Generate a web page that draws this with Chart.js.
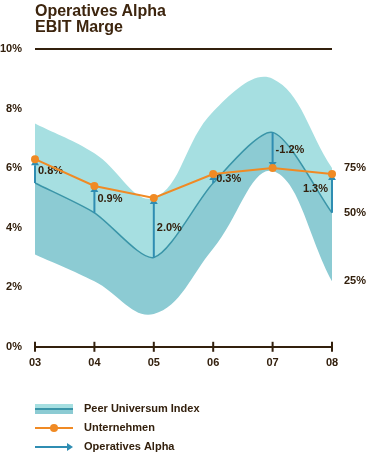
<!DOCTYPE html>
<html>
<head>
<meta charset="utf-8">
<script src="https://cdn.jsdelivr.net/npm/chart.js@4.4.1/dist/chart.umd.min.js"></script>
<style>
    body { margin: 0; background: #fff; }
    #wrap { position: relative; width: 368px; height: 454px; }
    #title { position: absolute; left: 35px; top: 3px; font: bold 16px "Liberation Sans", Arial, sans-serif; line-height: 16px; color: #3d250e; }
</style>
</head>
<body>
<div id="wrap">
    <div id="title">Operatives Alpha<br>EBIT Marge</div>
    <canvas id="myChart" width="368" height="454"></canvas>
</div>
<script>
const years = ['03', '04', '05', '06', '07', '08']
const peerUpper = [7.5, 6.5, 5.0, 7.9, 9.0, 6.0]
const peerMedian = [5.5, 4.5, 3.0, 5.5, 7.2, 4.5]
const peerLower = [3.1, 2.2, 1.1, 3.3, 5.9, 2.2]
const company = [6.3, 5.4, 5.0, 5.8, 6.0, 5.8]
const yTicks = [0, 2, 4, 6, 8, 10]
const quantileLabels = ['75%', '50%', '25%']
const legendLabels = ['Peer Universum Index', 'Unternehmen', 'Operatives Alpha']

const brown = '#33200d'
const lightBand = '#a6dfe1'
const darkBand = '#8ccbd3'
const medianColor = '#3a95a8'
const arrowColor = '#2f8db2'
const orange = '#f08a24'
const font = '"Liberation Sans", Arial, sans-serif'

function drawArrow(c, x1, y1, x2, y2){
    let ang = Math.atan2(y2 - y1, x2 - x1)
    let head = 6
    c.save()
    c.strokeStyle = arrowColor
    c.fillStyle = arrowColor
    c.lineWidth = 2
    c.beginPath()
    c.moveTo(x1, y1)
    c.lineTo(x2 - Math.cos(ang) * head, y2 - Math.sin(ang) * head)
    c.stroke()
    c.beginPath()
    c.moveTo(x2, y2)
    c.lineTo(x2 - Math.cos(ang) * head - Math.sin(ang) * 4, y2 - Math.sin(ang) * head + Math.cos(ang) * 4)
    c.lineTo(x2 - Math.cos(ang) * head + Math.sin(ang) * 4, y2 - Math.sin(ang) * head - Math.cos(ang) * 4)
    c.closePath()
    c.fill()
    c.restore()
}

//arrows from median to company, drawn before the orange line
const alphaArrows = {
    id: 'alphaArrows',
    afterDatasetDraw(chart, args){
        if(args.index != 1) return
        const c = chart.ctx
        const xs = chart.scales.x, ys = chart.scales.y
        c.save()
        c.font = 'bold 11px ' + font
        c.fillStyle = brown
        c.textBaseline = 'middle'
        for(let i = 0; i < years.length; i++){
            let x = xs.getPixelForValue(i)
            let yFrom = ys.getPixelForValue(peerMedian[i])
            let yTo = ys.getPixelForValue(company[i])
            drawArrow(c, x, yFrom, x, yTo)
            let diff = (company[i] - peerMedian[i]).toFixed(1) + '%'
            let yMid = ys.getPixelForValue((company[i] + peerMedian[i]) / 2)
            if(i == years.length - 1){
                c.textAlign = 'right'
                c.fillText(diff, x - 4, yMid - 4)
            } else {
                c.textAlign = 'left'
                c.fillText(diff, x + 3, yMid)
            }
        }
        c.restore()
    }
}

const extras = {
    id: 'extras',
    afterDraw(chart){
        const c = chart.ctx
        const xs = chart.scales.x, ys = chart.scales.y
        const area = chart.chartArea
        c.save()
        // tick marks crossing the x axis
        c.strokeStyle = brown
        c.lineWidth = 2
        for(let i = 0; i < years.length; i++){
            let x = xs.getPixelForValue(i)
            c.beginPath()
            c.moveTo(x, area.bottom - 5)
            c.lineTo(x, area.bottom + 5)
            c.stroke()
        }
        // quantile labels on the right
        c.font = 'bold 11px ' + font
        c.fillStyle = brown
        c.textAlign = 'left'
        c.textBaseline = 'middle'
        let last = years.length - 1
        let qVals = [peerUpper[last], peerMedian[last], peerLower[last]]
        quantileLabels.forEach((lbl, i) => {
            c.fillText(lbl, area.right + 12, ys.getPixelForValue(qVals[i]))
        })
        // legend
        let lx = 35, tx = 84
        let ly = [409, 428, 447]
        c.fillStyle = lightBand
        c.fillRect(lx, ly[0] - 5, 38, 5)
        c.fillStyle = darkBand
        c.fillRect(lx, ly[0], 38, 5)
        c.strokeStyle = medianColor
        c.lineWidth = 2
        c.beginPath(); c.moveTo(lx, ly[0]); c.lineTo(lx + 38, ly[0]); c.stroke()
        c.strokeStyle = orange
        c.beginPath(); c.moveTo(lx, ly[1]); c.lineTo(lx + 38, ly[1]); c.stroke()
        c.fillStyle = orange
        c.beginPath(); c.arc(lx + 19, ly[1], 4, 0, Math.PI * 2); c.fill()
        drawArrow(c, lx, ly[2], lx + 38, ly[2])
        c.fillStyle = brown
        c.font = 'bold 11px ' + font
        legendLabels.forEach((lbl, i) => c.fillText(lbl, tx, ly[i]))
        c.restore()
    }
}

const ctx = document.getElementById('myChart').getContext('2d')
const myChart = new Chart(ctx, {
    type: 'line',
    data: {
        labels: years,
        datasets: [{
            label: '75%',
            data: peerUpper,
            fill: '+1',
            backgroundColor: lightBand,
            borderWidth: 0,
            pointRadius: 0,
            tension: 0.4,
            order: 3
        }, {
            label: '50%',
            data: peerMedian,
            fill: '+1',
            backgroundColor: darkBand,
            borderColor: medianColor,
            borderWidth: 1.5,
            pointRadius: 0,
            tension: 0.25,
            order: 2
        }, {
            label: '25%',
            data: peerLower,
            fill: false,
            borderWidth: 0,
            pointRadius: 0,
            tension: 0.4,
            order: 1
        }, {
            label: 'Unternehmen',
            data: company,
            fill: false,
            borderColor: orange,
            backgroundColor: orange,
            borderWidth: 2,
            pointRadius: 4,
            pointBorderWidth: 0,
            tension: 0,
            order: 0
        }]
    },
    options: {
        responsive: false,
        animation: false,
        layout: {
            padding: { left: 0, right: 36, top: 49, bottom: 74 }
        },
        plugins: {
            legend: { display: false },
            tooltip: { enabled: false }
        },
        scales: {
            x: {
                offset: false,
                grid: { display: false, drawTicks: false },
                border: { display: true, color: brown, width: 2 },
                ticks: { color: brown, font: { family: font, size: 11, weight: 'bold' }, padding: 10, maxRotation: 0 }
            },
            y: {
                min: 0,
                max: 10,
                afterBuildTicks: axis => { axis.ticks = yTicks.map(v => ({ value: v })) },
                afterFit: axis => { axis.width = 35 },
                grid: {
                    drawTicks: false,
                    lineWidth: 2,
                    color: c => (c.tick && c.tick.value == 10) ? brown : 'rgba(0,0,0,0)'
                },
                border: { display: false },
                ticks: {
                    color: brown,
                    font: { family: font, size: 11, weight: 'bold' },
                    padding: 13,
                    callback: v => v + '%'
                }
            }
        }
    },
    plugins: [alphaArrows, extras]
})
</script>
</body>
</html>
